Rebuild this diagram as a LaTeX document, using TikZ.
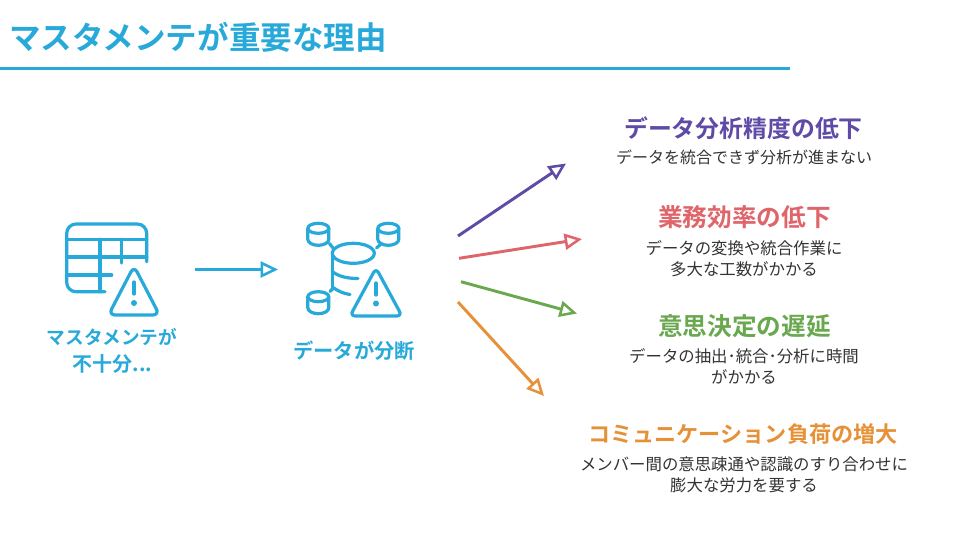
\documentclass[tikz,border=0pt]{standalone}
\usepackage{fontspec}
\setmainfont{Noto Sans CJK JP}
\newfontfamily\jpb{Noto Sans CJK JP Bold}
\usetikzlibrary{arrows.meta}
\definecolor{cblue}{HTML}{27A9D9}
\definecolor{cpurple}{HTML}{5F4BA6}
\definecolor{cred}{HTML}{E0656A}
\definecolor{cgreen}{HTML}{6AA84F}
\definecolor{corange}{HTML}{E69138}
\definecolor{ctext}{HTML}{333333}
\tikzset{
 conn/.style={line width=2.2pt,-{Triangle[open,fill=white,length=13pt,width=12pt,line width=1.9pt]}},
 icon/.style={draw=cblue,line width=2.4pt,line cap=round,line join=round},
 head/.style={inner sep=0pt,font=\jpb\fontsize{#1}{#1}\selectfont,anchor=center},
 body/.style={inner sep=0pt,align=center,text=ctext,font=\fontsize{#1}{15.6pt}\selectfont,anchor=center},
 lab/.style={inner sep=0pt,align=center,text=cblue,font=\jpb\fontsize{#1}{20pt}\selectfont,anchor=center},
}
\begin{document}
\begin{tikzpicture}[x=0.75pt,y=-0.75pt]
\useasboundingbox (0,0) rectangle (960,540);
\node[head=23.65pt,text=cblue,anchor=west] (title) at (9,37) {マスタメンテが重要な理由};
\draw[cblue,line width=2.2pt] (0,68.5) coordinate (ruleL) -- (790,68.5) coordinate (ruleR);
% table icon
\draw[icon,rounded corners=7pt] (105,291.7) -- (66.7,291.7) -- (66.7,224) -- (146.7,224) -- (146.7,261.7);
\draw[icon] (66.7,239.3) -- (146.7,239.3) (66.7,257) -- (146.7,257) (66.7,275) -- (111.7,275) (100,239.3) -- (100,291.7) (121.7,239.3) -- (121.7,263);
\draw[icon,rounded corners=5pt,fill=white] (134,266) -- (159.5,315) -- (108.5,315) -- cycle;
\draw[icon] (134,282) -- (134,294);
\fill[cblue] (134,303) circle (3);
% database icon
\foreach \cx/\cy in {318.3/228.3,388.3/228.3,318.3/296.7}{
 \draw[icon] (\cx,\cy) ellipse [x radius=10.5,y radius=5];
 \draw[icon] (\cx-10.5,\cy) -- (\cx-10.5,\cy+11) arc[start angle=180,end angle=0,x radius=10.5,y radius=6] -- (\cx+10.5,\cy);
}
\draw[icon] (353.3,253.3) ellipse [x radius=21,y radius=10];
\draw[icon] (332.3,253.3) -- (332.3,287);
\draw[icon] (332.3,271.5) .. controls (338,276) and (346,278.5) .. (358,278.5);
\draw[icon] (332.3,287) .. controls (338,291) and (343,293.5) .. (350,294.5);
\draw[icon] (329.5,243.5) -- (333,248) (376.5,248) -- (381.5,243.5) (330,291.5) -- (333,288.5);
\draw[icon,rounded corners=4pt] (376,268) -- (402,316) -- (350,316) -- cycle;
\draw[icon] (376,283) -- (376,295);
\fill[cblue] (376,303.5) circle (3);
% labels
\node[lab=14pt] (lab1) at (112,337) {マスタメンテが};
\node[lab=15pt] (lab1b) at (112.5,364) {不十分...};
\node[lab=15.2pt] (lab2) at (354,351) {データが分断};
% arrows
\coordinate (a0) at (195,269.5); \coordinate (b0) at (278,269.5);
\draw[conn,cblue] (a0) -- (b0);
\coordinate (a1) at (458,236); \coordinate (b1) at (566,163.5);
\draw[conn,cpurple] (a1) -- (b1);
\coordinate (a2) at (459,258.3); \coordinate (b2) at (582,239);
\draw[conn,cred] (a2) -- (b2);
\coordinate (a3) at (461,281.7); \coordinate (b3) at (577,313.5);
\draw[conn,cgreen] (a3) -- (b3);
\coordinate (a4) at (458,302); \coordinate (b4) at (544,396);
\draw[conn,corange] (a4) -- (b4);
% text
\node[head=17.9pt,text=cpurple] (h1) at (743.5,128) {データ分析精度の低下};
\node[body=12pt] (t1) at (744,157) {データを統合できず分析が進まない};
\node[head=18.5pt,text=cred] (h2) at (744.5,217) {業務効率の低下};
\node[body=12.3pt] (t2) at (744,258.5) {データの変換や統合作業に\\多大な工数がかかる};
\node[head=18.5pt,text=cgreen] (h3) at (744.5,326) {意思決定の遅延};
\node[body=12.3pt] (t3) at (744,366.5) {データの抽出･統合･分析に時間\\がかかる};
\node[head=16.6pt,text=corange] (h4) at (743,434.5) {コミュニケーション負荷の増大};
\node[body=12.3pt] (t4) at (744,475) {メンバー間の意思疎通や認識のすり合わせに\\膨大な労力を要する};
\end{tikzpicture}
\end{document}
